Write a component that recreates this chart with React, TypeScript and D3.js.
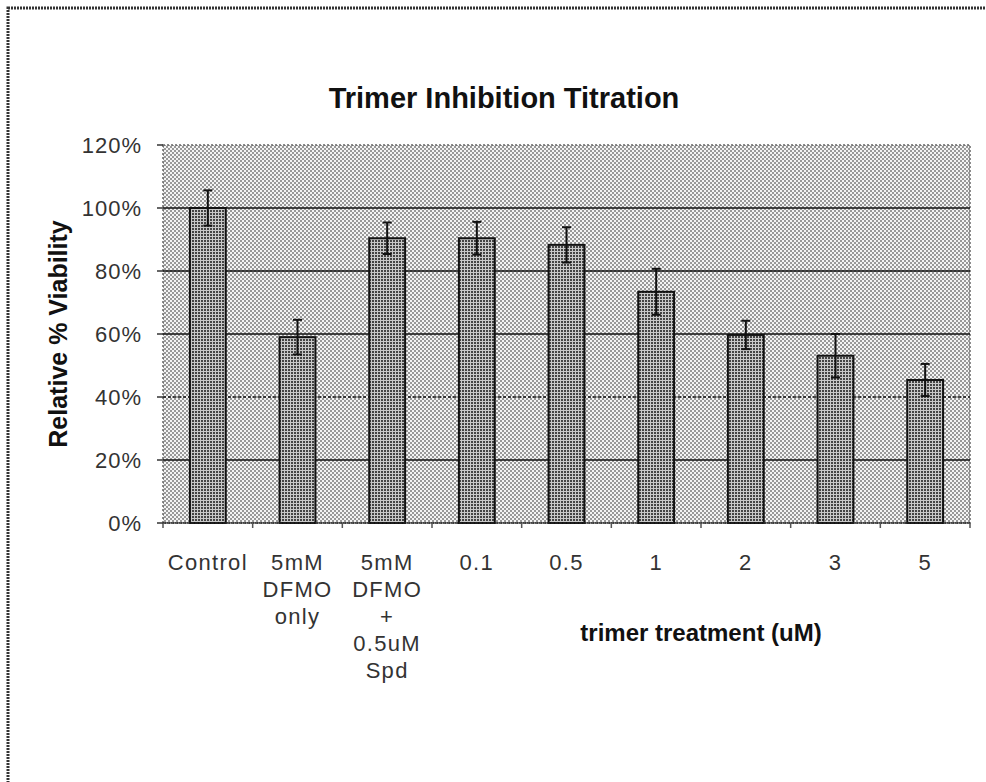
import React, { useEffect, useRef } from 'react';
import * as d3 from 'd3';

const CATEGORIES = ['Control', '5mM DFMO only', '5mM DFMO + Spd', '0.1', '0.5', '1', '2', '3', '5'];
const LABEL_LINES = [
  ['Control'],
  ['5mM', 'DFMO', 'only'],
  ['5mM', 'DFMO', '+', '0.5uM', 'Spd'],
  ['0.1'],
  ['0.5'],
  ['1'],
  ['2'],
  ['3'],
  ['5'],
];
const VIABILITY = [100, 59, 90.4, 90.4, 88.3, 73.4, 59.7, 53.1, 45.4];
const ERRORS = [5.6, 5.5, 5, 5.2, 5.6, 7.3, 4.5, 6.9, 5.1];
const Y_TICKS = [0, 20, 40, 60, 80, 100, 120];

export default function App() {
  const ref = useRef<SVGSVGElement | null>(null);

  useEffect(() => {
    document.body.style.margin = '0';
    const svg = d3.select(ref.current);
    svg.selectAll('*').remove();

    const W = 986;
    const H = 782;
    const plot = { left: 163, right: 970, top: 145, bottom: 523 };
    const font = '"Liberation Sans", Arial, sans-serif';

    const x = d3.scaleBand<string>()
      .domain(CATEGORIES)
      .range([plot.left, plot.right])
      .paddingInner(0.6)
      .paddingOuter(0.3);
    const y = d3.scaleLinear().domain([0, 120]).range([plot.bottom, plot.top]);

    // halftone fills
    const defs = svg.append('defs');
    const bg = defs.append('pattern')
      .attr('id', 'bgdots').attr('width', 4).attr('height', 4)
      .attr('patternUnits', 'userSpaceOnUse');
    bg.append('rect').attr('width', 4).attr('height', 4).attr('fill', '#f4f4f4');
    bg.append('rect').attr('x', 0).attr('y', 0).attr('width', 2).attr('height', 2).attr('fill', '#999');
    bg.append('rect').attr('x', 2).attr('y', 2).attr('width', 2).attr('height', 2).attr('fill', '#999');

    const bd = defs.append('pattern')
      .attr('id', 'bardots').attr('width', 3).attr('height', 3)
      .attr('patternUnits', 'userSpaceOnUse');
    bd.append('rect').attr('width', 3).attr('height', 3).attr('fill', '#c8c8c8');
    bd.append('rect').attr('x', 0).attr('y', 0).attr('width', 2).attr('height', 2).attr('fill', '#444');

    svg.append('rect').attr('width', W).attr('height', H).attr('fill', '#fff');

    // outer frame (runs off the right and bottom edges)
    svg.append('rect')
      .attr('x', 8).attr('y', 8).attr('width', W + 20).attr('height', H + 20)
      .attr('fill', 'none').attr('stroke', '#333').attr('stroke-width', 3)
      .attr('stroke-dasharray', '2,1');

    // plot area
    svg.append('rect')
      .attr('x', plot.left).attr('y', plot.top)
      .attr('width', plot.right - plot.left).attr('height', plot.bottom - plot.top)
      .attr('fill', 'url(#bgdots)')
      .attr('stroke', '#666').attr('stroke-width', 1.5).attr('stroke-dasharray', '2,2');

    // gridlines
    svg.append('g').selectAll('line')
      .data(Y_TICKS.filter((t) => t > 0 && t < 120))
      .join('line')
      .attr('x1', plot.left).attr('x2', plot.right)
      .attr('y1', (d) => y(d)).attr('y2', (d) => y(d))
      .attr('stroke', '#111').attr('stroke-width', 1.5)
      .attr('stroke-dasharray', (d) => (d === 40 ? '3,2' : null));

    // bars
    svg.append('g').selectAll('rect')
      .data(VIABILITY)
      .join('rect')
      .attr('x', (_, i) => x(CATEGORIES[i])!)
      .attr('y', (d) => y(d))
      .attr('width', x.bandwidth())
      .attr('height', (d) => y(0) - y(d))
      .attr('fill', 'url(#bardots)')
      .attr('stroke', '#111').attr('stroke-width', 2);

    // error bars
    const eg = svg.append('g').attr('stroke', '#111').attr('stroke-width', 2);
    VIABILITY.forEach((v, i) => {
      const cx = x(CATEGORIES[i])! + x.bandwidth() / 2;
      const e = ERRORS[i];
      eg.append('line').attr('x1', cx).attr('x2', cx).attr('y1', y(v + e)).attr('y2', y(v - e));
      eg.append('line').attr('x1', cx - 4.5).attr('x2', cx + 4.5).attr('y1', y(v + e)).attr('y2', y(v + e));
      eg.append('line').attr('x1', cx - 4.5).attr('x2', cx + 4.5).attr('y1', y(v - e)).attr('y2', y(v - e));
    });

    // x axis line + ticks at category boundaries
    svg.append('line')
      .attr('x1', plot.left).attr('x2', plot.right)
      .attr('y1', plot.bottom).attr('y2', plot.bottom)
      .attr('stroke', '#222').attr('stroke-width', 1.5).attr('stroke-dasharray', '3,1');
    const step = x.step();
    svg.append('g').selectAll('line')
      .data(d3.range(CATEGORIES.length + 1))
      .join('line')
      .attr('x1', (i) => plot.left + i * step).attr('x2', (i) => plot.left + i * step)
      .attr('y1', plot.bottom).attr('y2', plot.bottom + 5)
      .attr('stroke', '#555').attr('stroke-width', 1.5);

    // y axis ticks + labels
    svg.append('g').selectAll('line')
      .data(Y_TICKS)
      .join('line')
      .attr('x1', plot.left - 6).attr('x2', plot.left)
      .attr('y1', (d) => y(d)).attr('y2', (d) => y(d))
      .attr('stroke', '#333').attr('stroke-width', 1.5);
    svg.append('g').selectAll('text')
      .data(Y_TICKS)
      .join('text')
      .attr('x', plot.left - 21)
      .attr('y', (d) => y(d) + 8)
      .attr('text-anchor', 'end')
      .attr('font-family', font).attr('font-size', 22).attr('letter-spacing', 1)
      .attr('fill', '#333')
      .text((d) => `${d}%`);

    // category labels
    const lg = svg.append('g')
      .attr('font-family', font).attr('font-size', 22).attr('letter-spacing', 1.3)
      .attr('fill', '#333').attr('text-anchor', 'middle');
    LABEL_LINES.forEach((lines, i) => {
      const cx = x(CATEGORIES[i])! + x.bandwidth() / 2;
      lines.forEach((t, j) => {
        lg.append('text').attr('x', cx).attr('y', 570 + j * 27).text(t);
      });
    });

    // x group title
    const groupMid = (x(CATEGORIES[3])! + x(CATEGORIES[8])! + x.bandwidth()) / 2;
    svg.append('text')
      .attr('x', groupMid).attr('y', 641)
      .attr('text-anchor', 'middle')
      .attr('font-family', font).attr('font-size', 24).attr('font-weight', 'bold')
      .attr('fill', '#111')
      .text('trimer treatment (uM)');

    // y title
    svg.append('text')
      .attr('transform', `translate(67,${(plot.top + plot.bottom) / 2}) rotate(-90)`)
      .attr('text-anchor', 'middle')
      .attr('font-family', font).attr('font-size', 25).attr('font-weight', 'bold')
      .attr('fill', '#111')
      .text('Relative % Viability');

    // chart title
    svg.append('text')
      .attr('x', 504).attr('y', 108)
      .attr('text-anchor', 'middle')
      .attr('font-family', font).attr('font-size', 29).attr('font-weight', 'bold')
      .attr('fill', '#111')
      .text('Trimer Inhibition Titration');
  }, []);

  return <svg ref={ref} width={986} height={782} style={{ display: 'block' }} />;
}
